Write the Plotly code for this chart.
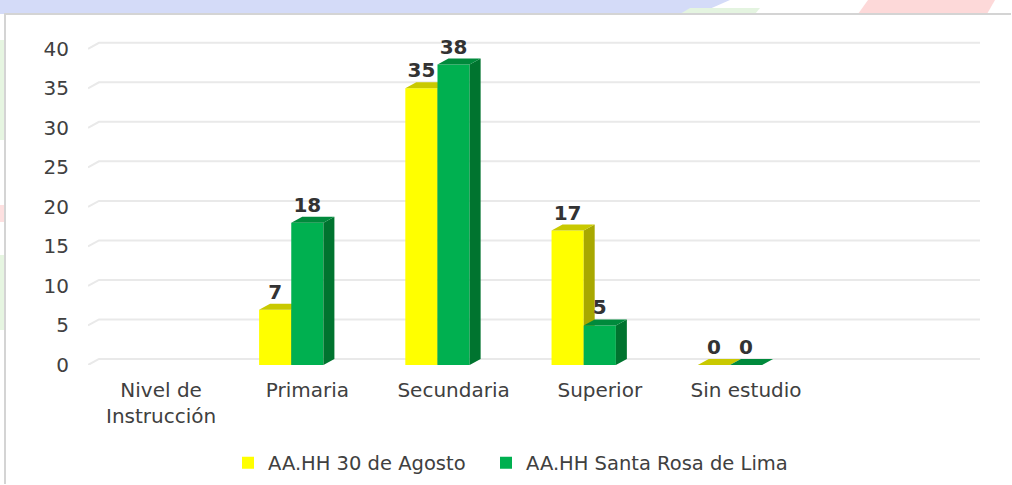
import plotly.graph_objects as go

# ---------------- data ----------------
categories = ["Nivel de<br>Instrucción", "Primaria", "Secundaria", "Superior", "Sin estudio"]
series_names = ["AA.HH 30 de Agosto", "AA.HH Santa Rosa de Lima"]
agosto = [None, 7, 35, 17, 0]
santa_rosa = [None, 18, 38, 5, 0]
y_ticks = [0, 5, 10, 15, 20, 25, 30, 35, 40]

# ---------------- style ----------------
FONT = "DejaVu Sans, Liberation Sans, Arial, sans-serif"
TXT = "#404040"
W, H = 1012, 485
PLOT_L, PLOT_R, PLOT_T, PLOT_B = 88, 980, 33, 365   # wanted plot box (px)
ML, MR, MT, MB = PLOT_L, W - PLOT_R, PLOT_T, H - PLOT_B
X_RANGE = [-0.5, 5.6]
Y_RANGE = [0, 42]
DX, DY = 0.075, 0.76          # 3-D depth offset in data units
BAR_W = 0.22
OFFS = [-0.33, -0.11]
COLORS = [
    dict(front="#ffff00", top="#c9c900", side="#a8a800"),
    dict(front="#00b050", top="#008a3c", side="#00742f"),
]
LEGENDS = ["legend", "legend2"]
LEGEND_LEFT_PX = [228, 486]

def px_to_paper(px, py):
    pw = PLOT_R - PLOT_L
    ph = PLOT_B - PLOT_T
    return (px - PLOT_L) / pw, (PLOT_B - py) / ph

fig = go.Figure()

def add_series(idx, vals, xa, ya):
    c = COLORS[idx]
    xs = list(range(len(vals)))
    fig.add_trace(go.Bar(
        x=xs, y=vals, name=series_names[idx], width=BAR_W, offset=OFFS[idx],
        marker=dict(color=c["front"], line=dict(width=0)),
        xaxis=xa, yaxis=ya, hoverinfo="skip", legend=LEGENDS[idx],
    ))
    sx, sy, tx, ty, lx, ly, lt = [], [], [], [], [], [], []
    for i, v in enumerate(vals):
        if v is None:
            continue
        xl = i + OFFS[idx]
        xr = xl + BAR_W
        sx += [xr, xr + DX, xr + DX, xr, xr, None]
        sy += [0, DY, v + DY, v, 0, None]
        tx += [xl, xl + DX, xr + DX, xr, xl, None]
        ty += [v, v + DY, v + DY, v, v, None]
        lx.append(xl + BAR_W / 2)
        ly.append(v + DY)
        lt.append(f"<b>{v}</b>")
    fig.add_trace(go.Scatter(x=sx, y=sy, fill="toself", fillcolor=c["side"], mode="lines",
                             line=dict(width=0, color=c["side"]), showlegend=False,
                             hoverinfo="skip", xaxis=xa, yaxis=ya))
    fig.add_trace(go.Scatter(x=tx, y=ty, fill="toself", fillcolor=c["top"], mode="lines",
                             line=dict(width=0, color=c["top"]), showlegend=False,
                             hoverinfo="skip", xaxis=xa, yaxis=ya))
    fig.add_trace(go.Scatter(x=lx, y=ly, text=lt, mode="text", textposition="top center",
                             textfont=dict(family=FONT, size=20, color="#333333"),
                             showlegend=False, hoverinfo="skip", xaxis=xa, yaxis=ya,
                             cliponaxis=False))

add_series(0, agosto, "x", "y")
add_series(1, santa_rosa, "x2", "y2")

# back-wall gridlines (perspective offset)
shapes = []
for v in y_ticks:
    shapes.append(dict(
        type="path", xref="x", yref="y", layer="below",
        path=f"M {X_RANGE[0]},{v} L {X_RANGE[0] + DX},{v + DY} L {X_RANGE[1]},{v + DY}",
        line=dict(color="#e9e9e9", width=2),
    ))

# decorative slide background + chart frame
def rect_px(x0, y0, x1, y1, **kw):
    a0, b0 = px_to_paper(x0, y0)
    a1, b1 = px_to_paper(x1, y1)
    return dict(type="rect", xref="paper", yref="paper", x0=a0, y0=b1, x1=a1, y1=b0, layer="below", **kw)

def poly_px(pts, color=None, close=True, line=None):
    conv = [px_to_paper(x, y) for x, y in pts]
    path = "M " + " L ".join(f"{a},{b}" for a, b in conv) + (" Z" if close else "")
    d = dict(type="path", xref="paper", yref="paper", path=path, layer="below",
             line=line or dict(width=0))
    if color:
        d["fillcolor"] = color
    return d

deco = [
    poly_px([(0, 0), (730, 0), (698, 14), (0, 14)], "#d4dbf8"),
    poly_px([(690, 8), (760, 8), (755, 14), (680, 14)], "#e4f4e0"),
    poly_px([(868, 0), (995, 0), (987, 14), (858, 14)], "#fdd9d9"),
    rect_px(0, 40, 5, 140, fillcolor="#e6f5e1", line=dict(width=0)),
    rect_px(0, 205, 5, 222, fillcolor="#fde0e0", line=dict(width=0)),
    rect_px(0, 255, 5, 330, fillcolor="#e6f5e1", line=dict(width=0)),
    poly_px([(5, 484), (5, 14), (1011, 14)], close=False, line=dict(color="#d4d4d4", width=2)),
]
shapes = deco + shapes

_, ly0 = px_to_paper(0, 463)
legend_common = dict(orientation="h", xanchor="left", y=ly0, yanchor="middle",
                     font=dict(family=FONT, size=19.5, color=TXT), itemwidth=30,
                     bgcolor="rgba(0,0,0,0)")

fig.update_layout(
    width=W, height=H,
    margin=dict(l=ML, r=MR, t=MT, b=MB, autoexpand=False),
    paper_bgcolor="white", plot_bgcolor="rgba(0,0,0,0)",
    barmode="overlay",
    font=dict(family=FONT, color=TXT),
    shapes=shapes,
    xaxis=dict(range=X_RANGE, tickmode="array", tickvals=list(range(len(categories))),
               ticktext=categories, showgrid=False, zeroline=False, showline=False,
               ticks="", tickfont=dict(family=FONT, size=20, color=TXT), ticklabelstandoff=11,
               fixedrange=True, automargin=False),
    yaxis=dict(range=Y_RANGE, tickmode="array", tickvals=y_ticks, showgrid=False,
               zeroline=False, showline=False, ticks="",
               tickfont=dict(family=FONT, size=20, color=TXT), ticklabelstandoff=18,
               fixedrange=True, automargin=False),
    xaxis2=dict(range=X_RANGE, overlaying="x", anchor="y2", visible=False),
    yaxis2=dict(range=Y_RANGE, overlaying="y", anchor="x2", visible=False),
    legend=dict(x=px_to_paper(LEGEND_LEFT_PX[0], 0)[0], **legend_common),
    legend2=dict(x=px_to_paper(LEGEND_LEFT_PX[1], 0)[0], **legend_common),
    showlegend=True,
)

fig.write_html(
    "out.html",
    config={"displayModeBar": False, "staticPlot": True},
    post_script=("document.documentElement.style.overflow='hidden';"
                 "document.body.style.margin='0';document.body.style.overflow='hidden';"
                 "var gd=document.getElementById('{plot_id}');"
                 "gd.style.position='fixed';gd.style.top='0px';gd.style.left='0px';"
                 "window.scrollTo(0,0);"),
)
